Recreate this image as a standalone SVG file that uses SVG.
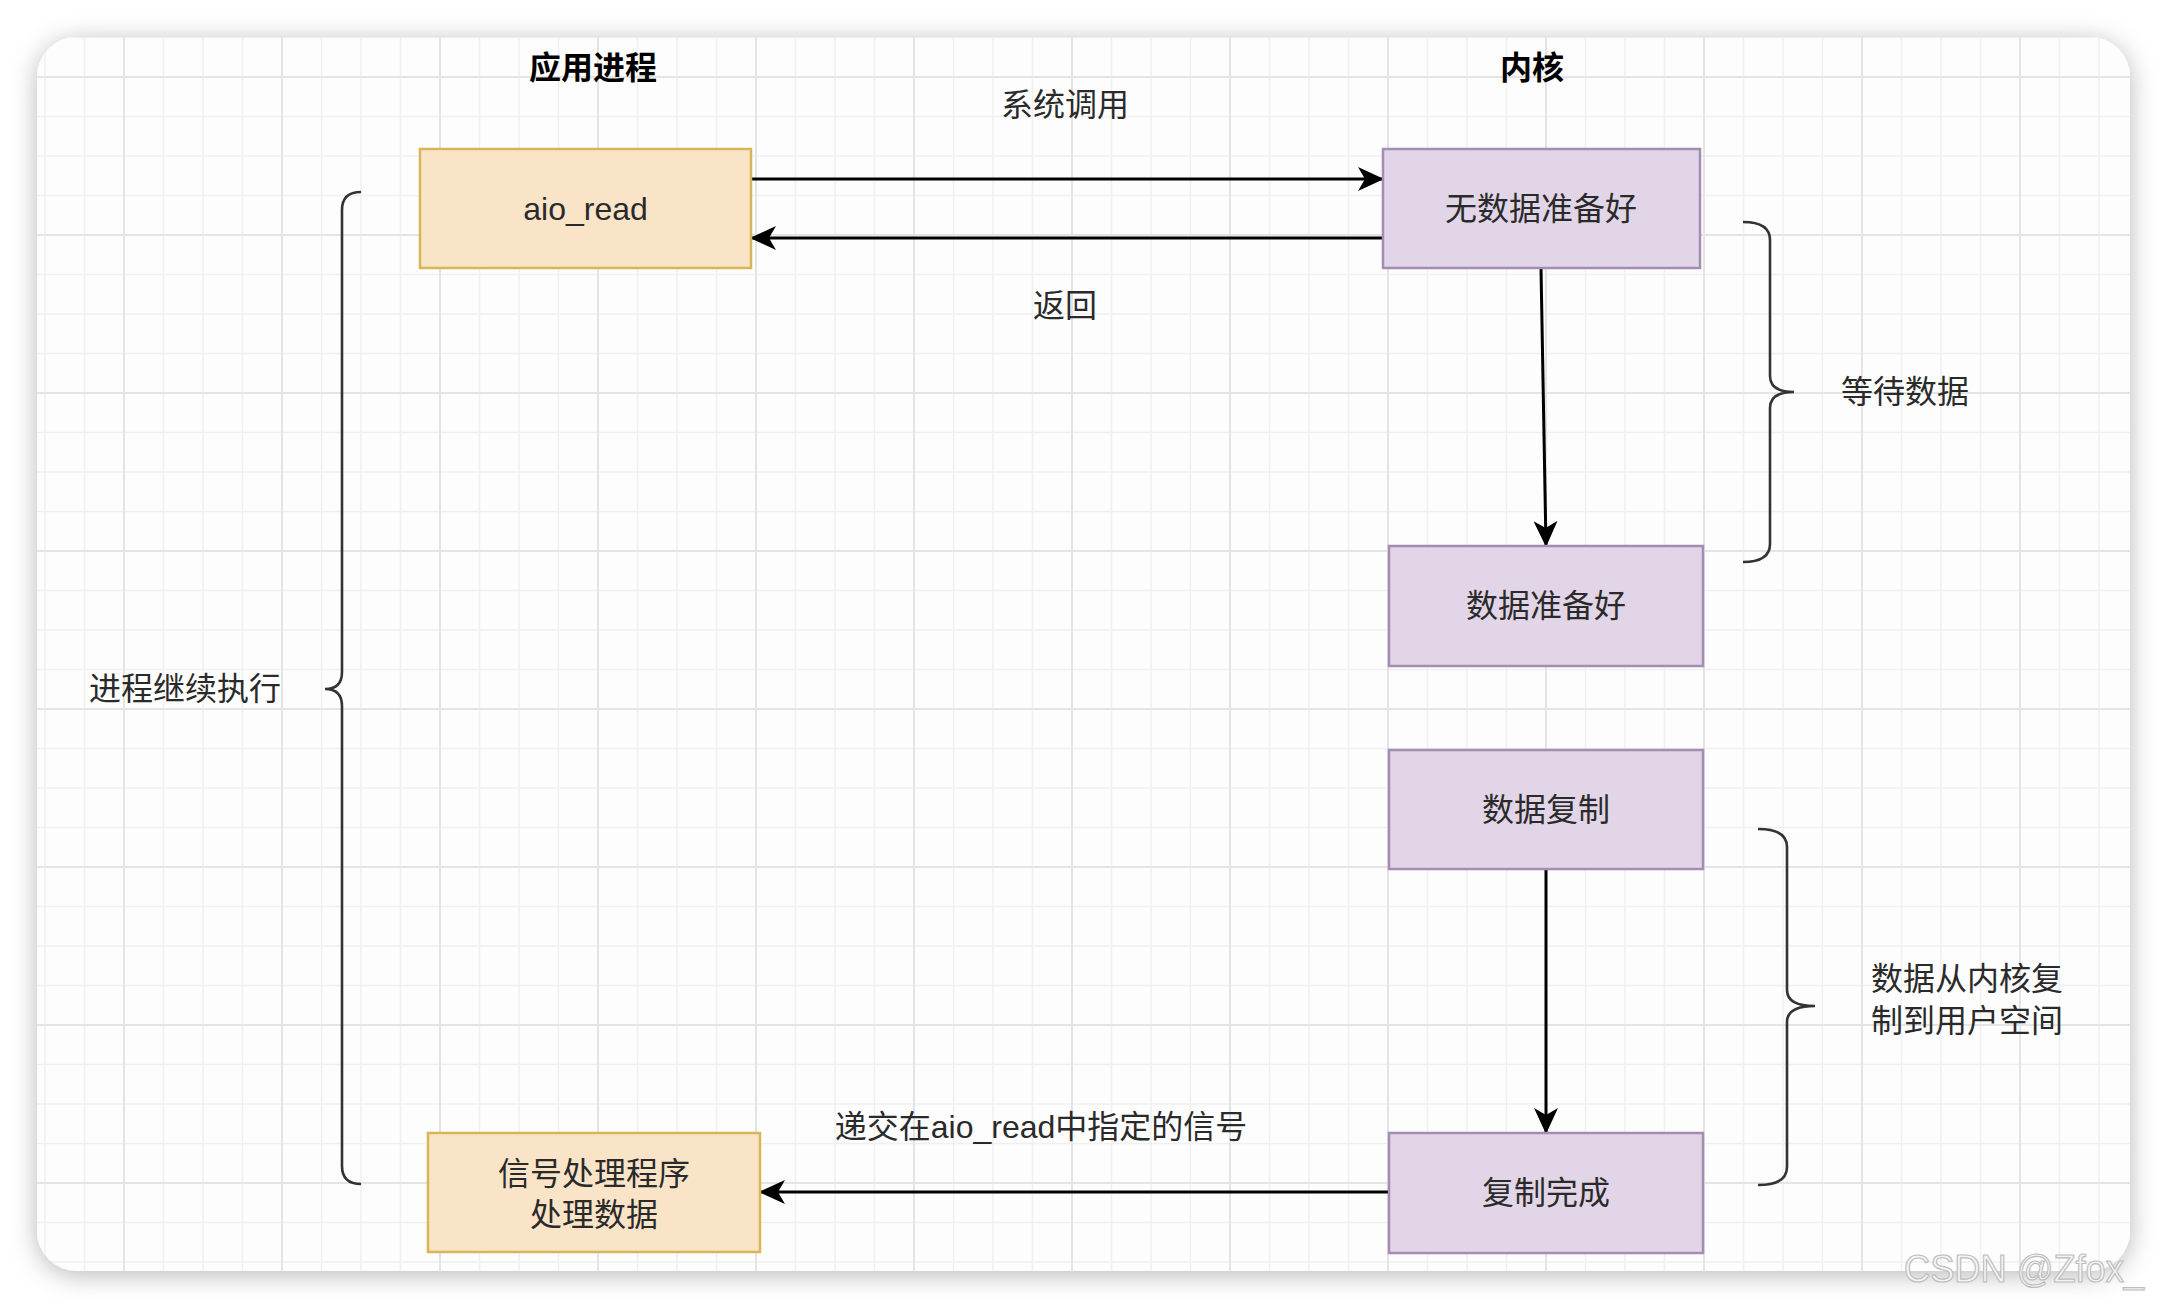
<svg xmlns="http://www.w3.org/2000/svg" width="2166" height="1308" viewBox="0 0 2166 1308">
<defs>
<filter id="shadow" x="-5%" y="-5%" width="110%" height="110%">
<feDropShadow dx="0" dy="4" stdDeviation="13" flood-color="#000" flood-opacity="0.28"/>
</filter>
<pattern id="grid" patternUnits="userSpaceOnUse" x="123" y="76" width="158" height="158">
<path d="M40.5 0V158M80 0V158M119.5 0V158M0 40.5H158M0 80H158M0 119.5H158" stroke="#f0f0f0" stroke-width="1.6" fill="none"/>
<path d="M1 0V158M0 1H158" stroke="#e4e4e4" stroke-width="2" fill="none"/>
</pattern>
<clipPath id="cardclip"><rect x="37" y="37" width="2093" height="1234" rx="40"/></clipPath>
<marker id="arrow" markerUnits="userSpaceOnUse" markerWidth="26" markerHeight="24" viewBox="0 0 26 24" refX="25" refY="12" orient="auto">
<path d="M0 0L26 12L0 24L7 12Z" fill="#000"/>
</marker>
<style>
.yellow{fill:#f9e4c8;stroke:#d6b656;stroke-width:2.5}
.purple{fill:#e1d5e7;stroke:#a48db2;stroke-width:2.5}
.t{font-family:"Liberation Sans","Noto Sans CJK SC",sans-serif;font-size:32px;fill:#2a2a2a;text-anchor:middle;dominant-baseline:central}
.title{font-weight:bold;fill:#000}
.conn{stroke:#000;stroke-width:3;fill:none}
.brace{stroke:#333;stroke-width:2.6;fill:none}
</style>
</defs>
<rect x="0" y="0" width="2166" height="1308" fill="#ffffff"/>
<rect x="37" y="37" width="2093" height="1234" rx="40" fill="#fdfdfd" filter="url(#shadow)"/>
<rect x="37" y="37" width="2093" height="1234" fill="url(#grid)" clip-path="url(#cardclip)"/>

<text class="t title" x="593" y="68">应用进程</text>
<text class="t title" x="1532" y="68">内核</text>

<g id="connectors">
<path class="conn" d="M751 179H1383" marker-end="url(#arrow)"/>
<path class="conn" d="M1383 238H751" marker-end="url(#arrow)"/>
<path class="conn" d="M1541 268L1546 546" stroke-width="2.5" marker-end="url(#arrow)"/>
<path class="conn" d="M1546 869V1133" stroke-width="2.5" marker-end="url(#arrow)"/>
<path class="conn" d="M1389 1192H760" marker-end="url(#arrow)"/>
<text class="t" x="1065" y="105">系统调用</text>
<text class="t" x="1065" y="306">返回</text>
<text class="t" x="1041" y="1127">递交在aio_read中指定的信号</text>
</g>

<g id="node-aio-read">
<rect class="yellow" x="420" y="149" width="331" height="119"/>
<text class="t" x="585.5" y="208.5">aio_read</text>
</g>
<g id="node-no-data">
<rect class="purple" x="1383" y="149" width="317" height="119"/>
<text class="t" x="1541" y="208.5">无数据准备好</text>
</g>
<g id="node-data-ready">
<rect class="purple" x="1389" y="546" width="314" height="120"/>
<text class="t" x="1546" y="606">数据准备好</text>
</g>
<g id="node-data-copy">
<rect class="purple" x="1389" y="750" width="314" height="119"/>
<text class="t" x="1546" y="810">数据复制</text>
</g>
<g id="node-copy-done">
<rect class="purple" x="1389" y="1133" width="314" height="120"/>
<text class="t" x="1546" y="1193">复制完成</text>
</g>
<g id="node-signal-handler">
<rect class="yellow" x="428" y="1133" width="332" height="119"/>
<text class="t" x="594" y="1174">信号处理程序</text>
<text class="t" x="594" y="1215">处理数据</text>
</g>

<g id="brace-left">
<path class="brace" d="M361 192Q342 192 342 210V672Q342 689 325 689Q342 689 342 706V1166Q342 1184 361 1184"/>
<text class="t" x="185" y="689">进程继续执行</text>
</g>
<g id="brace-wait">
<path class="brace" d="M1743 222Q1770 222 1770 240V376Q1770 392 1794 392Q1770 392 1770 408V544Q1770 562 1743 562"/>
<text class="t" x="1905" y="392">等待数据</text>
</g>
<g id="brace-copy">
<path class="brace" d="M1758 829Q1787 829 1787 847V990Q1787 1006 1815 1006Q1787 1006 1787 1022V1167Q1787 1185 1758 1185"/>
<text class="t" x="1967" y="979">数据从内核复</text>
<text class="t" x="1967" y="1021">制到用户空间</text>
</g>

<text x="1904" y="1282" font-family="'Liberation Sans',sans-serif" font-size="38" textLength="240" lengthAdjust="spacingAndGlyphs" fill="#f4f4f4" stroke="#bdbdbd" stroke-width="1.2">CSDN @Zfox_</text>
</svg>
